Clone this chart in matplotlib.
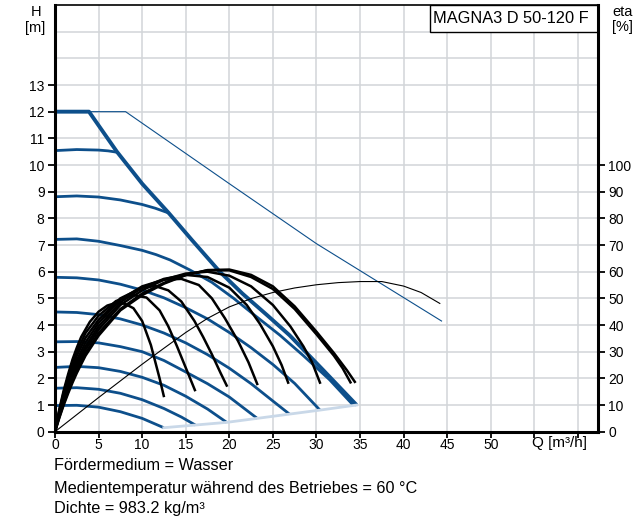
import matplotlib
matplotlib.use('Agg')
import matplotlib.pyplot as plt
from matplotlib.patches import Rectangle

plt.rcParams['font.family'] = ['Liberation Sans', 'DejaVu Sans']
plt.rcParams['font.size'] = 10

# speed curves H [m] over Q [m3/h]
b1_q = [0, 2.5, 5, 7.5, 10, 12.48]
b1_h = [0.98, 0.99, 0.92, 0.75, 0.50, 0.15]
b2_q = [0, 2.5, 5, 7.5, 10, 12.5, 14.5, 16.1]
b2_h = [1.63, 1.65, 1.59, 1.44, 1.2, 0.87, 0.55, 0.25]
b3_q = [0, 2.5, 5, 7.5, 10, 12.5, 15, 17.5, 19.7]
b3_h = [2.41, 2.45, 2.40, 2.26, 2.04, 1.74, 1.33, 0.85, 0.35]
b4_q = [0, 2.5, 5, 7.5, 10, 12.5, 15, 17.5, 20, 23.2]
b4_h = [3.37, 3.38, 3.33, 3.19, 3.0, 2.67, 2.24, 1.8, 1.3, 0.5]
b5_q = [0, 2.5, 5, 7.5, 10, 12.5, 15, 17.5, 20, 22.5, 25, 26.9]
b5_h = [4.49, 4.47, 4.39, 4.23, 4.0, 3.70, 3.33, 2.89, 2.38, 1.80, 1.15, 0.66]
b6_q = [0, 2.5, 5, 7.5, 10, 12.5, 15, 17.5, 20, 22.5, 25, 27.5, 30.4]
b6_h = [5.79, 5.77, 5.69, 5.53, 5.31, 5.02, 4.65, 4.23, 3.72, 3.15, 2.52, 1.81, 0.81]
b7_q = [0, 2.5, 5, 7.5, 10, 11.6, 13.2, 15.5, 18, 20.5, 22.7, 25.8, 28.5, 31.5, 34.2]
b7_h = [7.21, 7.23, 7.14, 6.98, 6.8, 6.64, 6.44, 6.06, 5.6, 5.0, 4.42, 3.62, 2.85, 1.95, 1.0]
b8_q = [0, 2.5, 5, 7.5, 10, 11.5, 13.05]
b8_h = [8.81, 8.84, 8.8, 8.69, 8.52, 8.38, 8.2]
b9_q = [0, 2.5, 5, 6.1, 7.1]
b9_h = [10.54, 10.58, 10.56, 10.53, 10.48]
max_q = [0, 3.9, 7.1, 10, 13.05, 15.7, 18.9, 21.5, 24.3, 26.9, 30.8, 34.6]
max_h = [12, 12, 10.5, 9.3, 8.2, 7.19, 6.0, 5.18, 4.38, 3.62, 2.3, 1.0]
lim_q = [3.9, 8.1, 20, 30, 44.35]
lim_h = [12, 12, 9.3, 7.05, 4.15]
min_q = [12.48, 16.1, 19.7, 23.2, 26.9, 30.4, 34.6]
min_h = [0.15, 0.25, 0.35, 0.5, 0.66, 0.81, 1.0]

# efficiency curves eta [%]
e1_q = [0, 0.5, 1, 1.5, 2, 2.5, 3, 4, 5, 6, 7, 8, 9, 10, 11, 12, 12.48]
e1_eta = [0, 8.5, 15.5, 21.5, 27, 31.5, 35.5, 41.2, 45, 47.3, 48.3, 48, 46.3, 41.5, 32.5, 20, 13.4]
e2_q = [0, 0.5, 1, 1.5, 2, 2.5, 3.5, 5, 7, 9, 10.5, 12, 13, 14, 15, 16.05]
e2_eta = [0, 8, 14.8, 20.5, 25.5, 30, 37, 43.5, 49, 51.2, 50.3, 45.5, 39.5, 32, 24, 15.6]
e3_q = [0, 0.5, 1, 1.5, 2, 2.5, 3.5, 5, 7.5, 10, 11.5, 13, 14.5, 16, 17, 18, 19, 19.7]
e3_eta = [0, 7.5, 14, 19.5, 24.3, 28.5, 35.2, 42, 50, 54, 54.6, 53, 48.8, 41.5, 35.5, 29, 22, 17.3]
e4_q = [0, 0.5, 1, 1.5, 2, 2.5, 3.5, 5, 7.5, 10, 12.5, 14.5, 16.5, 18, 19.5, 21, 22.2, 23.2]
e4_eta = [0, 7, 13, 18, 22.7, 26.8, 33.5, 40.8, 49.5, 54.5, 57, 57.3, 55, 50, 42.5, 34, 26, 17.9]
e5_q = [0, 0.5, 1, 1.5, 2, 2.5, 3.5, 5, 7.5, 10, 12.5, 15, 17.5, 20, 22, 23.5, 25, 26, 26.75]
e5_eta = [0, 6.5, 12, 17, 21.4, 25.4, 32, 39.5, 48.5, 54, 57.3, 58.8, 58, 54, 47.5, 40.5, 32, 25, 18.4]
e6_q = [0, 0.5, 1, 1.5, 2, 2.5, 3.5, 5, 7.5, 10, 12.5, 15, 17.5, 20, 22.5, 25, 27, 28.5, 29.5, 30.4]
e6_eta = [0, 6, 11.3, 16, 20.3, 24.2, 30.8, 38.3, 47.5, 53, 57, 59.3, 60, 58.5, 54.5, 47.5, 39.5, 32, 26, 18.4]
e7_q = [0, 0.5, 1, 1.5, 2, 2.5, 3.5, 5, 7.5, 10, 12.5, 15, 17.5, 20, 22.5, 25, 27.5, 30, 32, 33, 33.9]
e7_eta = [0, 5.5, 10.5, 15, 19.2, 23, 29.5, 37, 46, 51.8, 55.8, 58.8, 60.5, 60.5, 58, 53.5, 46, 36.5, 28.5, 23.8, 18.5]
e8_q = [0, 0.5, 1, 1.5, 2, 2.5, 3.5, 5, 7.5, 10, 12.5, 15, 17.5, 20, 22.5, 25, 27.5, 30, 32, 33.5, 34.4]
e8_eta = [0, 5.2, 10, 14.3, 18.3, 22, 28.5, 36, 45.5, 51.2, 55.5, 58.7, 60.6, 60.8, 58.8, 54.5, 47, 37.5, 29.5, 23, 18.7]
tot_q = [0, 5, 10, 12.5, 15, 17.5, 20, 22.5, 25, 27.5, 30, 32.5, 35, 37.5, 40, 42, 44.15]
tot_eta = [0, 12.8, 25.3, 31.3, 37.2, 42.5, 46.8, 49.9, 52.2, 53.9, 55.1, 55.9, 56.3, 56.3, 54.6, 52.2, 48.1]

x_ticks = list(range(0, 65, 5))
x_labels = [str(v) for v in range(0, 55, 5)] + ['', '']
h_ticks = list(range(0, 14))
eta_ticks = list(range(0, 110, 10))

blue = '#0d4f8b'
light = '#c9d8e8'

fig = plt.figure(figsize=(6.37, 5.24), dpi=100)
ax = fig.add_axes([55/637, 1 - 431.7/524, (598 - 55)/637, (431.7 - 5)/524])
ax.set_xlim(0, 62.3)
ax.set_ylim(0, 16)
ax.set_xticks(x_ticks)
ax.set_xticklabels(x_labels)
ax.set_yticks(h_ticks)
ax.set_yticks([14, 15], minor=True)
ax.grid(True, which='major', color='#d2d5d8', lw=1.1)
ax.yaxis.grid(True, which='minor', color='#d2d5d8', lw=1.1)
ax.tick_params(which='minor', length=0)
ax.tick_params(axis='y', which='major', direction='out', length=5, width=1.3, pad=2.5)
ax.tick_params(axis='x', which='major', direction='out', length=4, width=1.3, pad=0.8)
for s in ['left', 'bottom']:
    ax.spines[s].set_linewidth(2.2)
ax.spines['top'].set_linewidth(1.2)
ax.spines['right'].set_visible(False)

for q, h in [(b1_q, b1_h), (b2_q, b2_h), (b3_q, b3_h), (b4_q, b4_h), (b5_q, b5_h),
             (b6_q, b6_h), (b7_q, b7_h), (b8_q, b8_h), (b9_q, b9_h)]:
    ax.plot(q, h, color=blue, lw=2.0, solid_capstyle='butt', solid_joinstyle='round')
ax.plot(max_q, max_h, color=blue, lw=2.8, solid_capstyle='butt', solid_joinstyle='round')
ax.plot(lim_q, lim_h, color=blue, lw=0.8)
ax.plot(min_q, min_h, color=light, lw=2.0)

ax.add_patch(Rectangle((43, 15), 62.3 - 43, 1, fc='white', ec='black', lw=1, zorder=5))
ax.text(43.4, 15.5, 'MAGNA3 D 50-120 F', ha='left', va='center', fontsize=11.8, zorder=6)

ax2 = ax.twinx()
ax2.set_ylim(0, 160)
ax2.set_yticks(eta_ticks)
ax2.tick_params(direction='out', length=5, width=1.3, pad=2.5)
for s in ['left', 'top', 'bottom']:
    ax2.spines[s].set_visible(False)
ax2.spines['right'].set_linewidth(2.2)

for q, e in [(e1_q, e1_eta), (e2_q, e2_eta), (e3_q, e3_eta), (e4_q, e4_eta),
             (e5_q, e5_eta), (e6_q, e6_eta), (e7_q, e7_eta), (e8_q, e8_eta)]:
    ax2.plot(q, e, color='black', lw=1.8, solid_joinstyle='round')
ax2.plot(tot_q, tot_eta, color='black', lw=0.8)

fig.text(36/637, 1 - 12/524, 'H', ha='center', va='center', fontsize=10.5)
fig.text(35/637, 1 - 28/524, '[m]', ha='center', va='center', fontsize=10.5)
fig.text(612/637, 1 - 12/524, 'eta', ha='left', va='center', fontsize=10.5)
fig.text(612/637, 1 - 27/524, '[%]', ha='left', va='center', fontsize=10.5)
fig.text(560/637, 1 - 443/524, 'Q [m³/h]', ha='center', va='center', fontsize=11)

fig.text(54/637, 1 - 466/524, 'Fördermedium = Wasser', ha='left', va='center', fontsize=11.7)
fig.text(54/637, 1 - 488/524, 'Medientemperatur während des Betriebes = 60 °C',
         ha='left', va='center', fontsize=11.7)
fig.text(54/637, 1 - 509/524, 'Dichte = 983.2 kg/m³', ha='left', va='center', fontsize=11.7)

fig.savefig('out.png', dpi=100)
